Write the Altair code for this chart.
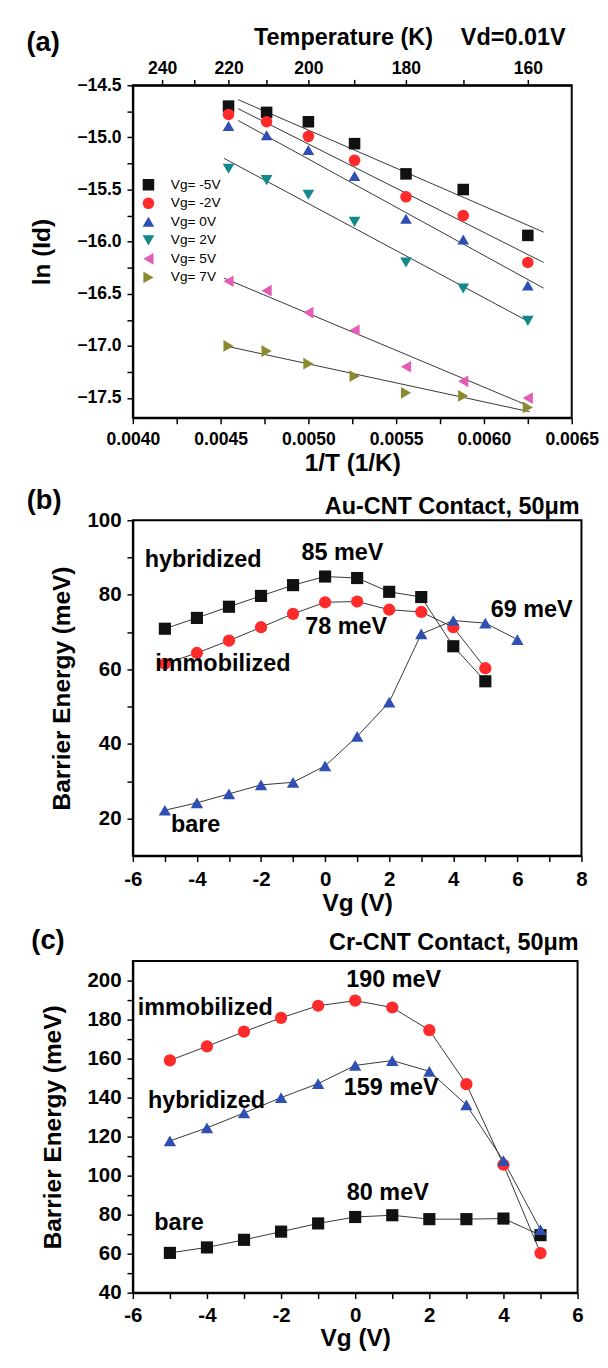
import altair as alt
import pandas as pd

FONT = "Liberation Sans"

# ---------------- panel (a) data ----------------
inv_T = [0.004545, 0.004762, 0.005000, 0.005263, 0.005556, 0.005882, 0.006250]
series_a = ["Vg= -5V", "Vg= -2V", "Vg= 0V", "Vg= 2V", "Vg= 5V", "Vg= 7V"]
ln_m5 = [-14.70, -14.76, -14.85, -15.06, -15.35, -15.50, -15.94]
ln_m2 = [-14.78, -14.85, -14.99, -15.22, -15.57, -15.75, -16.20]
ln_p0 = [-14.89, -14.98, -15.12, -15.37, -15.78, -15.98, -16.42]
ln_p2 = [-15.30, -15.41, -15.55, -15.81, -16.20, -16.45, -16.76]
ln_p5 = [-16.38, -16.47, -16.68, -16.85, -17.20, -17.34, -17.50]
ln_p7 = [-17.00, -17.05, -17.17, -17.29, -17.45, -17.48, -17.59]
colors_a = ["#111111", "#ff2a2a", "#2f50b2", "#12888a", "#e35db4", "#8a8a2e"]
shapes_a = ["square", "circle", "triangle-up", "triangle-down", "triangle-left", "triangle-right"]
sizes_a = [140, 145, 210, 210, 210, 210]
temps_top = [240, 230, 220, 210, 200, 190, 180, 170, 160]
x_ticks_a = [0.004, 0.00425, 0.0045, 0.00475, 0.005, 0.00525, 0.0055, 0.00575, 0.006, 0.00625, 0.0065]
y_ticks_a = [-14.5, -14.75, -15.0, -15.25, -15.5, -15.75, -16.0, -16.25, -16.5, -16.75,
             -17.0, -17.25, -17.5]

# ---------------- panel (b) data ----------------
vg_b = [-5, -4, -3, -2, -1, 0, 1, 2, 3, 4, 5]
vg_b_bare = [-5, -4, -3, -2, -1, 0, 1, 2, 3, 4, 5, 6]
hyb_b = [70.9, 73.8, 76.8, 79.7, 82.6, 84.9, 84.5, 80.8, 79.4, 66.2, 56.8]
imm_b = [61.5, 64.4, 67.7, 71.3, 74.9, 78.0, 78.2, 76.0, 75.4, 71.3, 60.3]
bare_b = [22.2, 24.2, 26.6, 29.0, 29.7, 34.1, 42.0, 51.2, 69.5, 73.1, 72.4, 68.0]
series_b = ["hybridized", "immobilized", "bare"]
colors_b = ["#111111", "#ff2a2a", "#2f50b2"]
shapes_b = ["square", "circle", "triangle-up"]
sizes_b = [155, 160, 240]

# ---------------- panel (c) data ----------------
vg_c = [-5, -4, -3, -2, -1, 0, 1, 2, 3, 4, 5]
imm_c = [159.1, 166.3, 173.8, 180.9, 187.1, 189.7, 186.2, 174.6, 146.9, 105.6, 60.3]
hyb_c = [117.8, 124.5, 132.1, 140.0, 147.2, 156.5, 159.0, 153.5, 136.3, 107.7, 72.3]
bare_c = [60.4, 63.2, 67.1, 71.3, 75.5, 78.8, 79.7, 77.7, 77.7, 78.0, 69.5]
series_c = ["bare", "immobilized", "hybridized"]
colors_c = ["#111111", "#ff2a2a", "#2f50b2"]
shapes_c = ["square", "circle", "triangle-up"]
sizes_c = [155, 160, 240]

# annotations (text, x, y)
ann_b_left = [("hybridized", -5.63, 89.2), ("immobilized", -5.3, 61.3),
              ("bare", -4.81, 18.2), ("69 meV", 5.17, 76.0)]
ann_b_center = [("85 meV", 0.54, 91.3), ("78 meV", 0.66, 71.4)]
ann_c_left = [("immobilized", -5.87, 185.8), ("hybridized", -5.59, 138.3), ("bare", -5.42, 75.8)]
ann_c_center = [("190 meV", 1.04, 200.0), ("159 meV", 0.97, 145.0), ("80 meV", 0.88, 90.8)]


def axis(values, expr, fs, lp, title=None, tfs=25, tp=5, orient=None):
    kw = dict(values=values, labelExpr=expr, labelFont=FONT, labelFontSize=fs,
              labelFontWeight="bold", labelColor="black", labelPadding=lp,
              labelOverlap=False, labelFlush=False, domainColor="black", domainWidth=2,
              tickColor="black", tickWidth=1.5, tickSize=6, grid=False,
              titleFont=FONT, titleFontSize=tfs, titleFontWeight="bold",
              titleColor="black", titlePadding=tp)
    kw["title"] = title
    if orient:
        kw["orient"] = orient
    return alt.Axis(**kw)


def anchor(x, y1, y2):
    return alt.Chart(alt.Data(values=[{}])).mark_rule(strokeOpacity=0, strokeWidth=1).encode(
        x=alt.value(x), x2=alt.value(x + 1), y=alt.value(y1), y2=alt.value(y2))


def label(text, x, y, fs, align="center"):
    return alt.Chart(alt.Data(values=[{}])).mark_text(
        text=text, font=FONT, fontSize=fs, fontWeight="bold", color="black",
        align=align, baseline="middle").encode(x=alt.value(x), y=alt.value(y))


# ================= panel (a) =================
rows = []
for name, vals in zip(series_a, [ln_m5, ln_m2, ln_p0, ln_p2, ln_p5, ln_p7]):
    for xv, yv in zip(inv_T, vals):
        rows.append({"invT": xv, "lnId": yv, "series": name})
df_a = pd.DataFrame(rows)

xa_scale = alt.Scale(domain=[0.004, 0.0065], nice=False, zero=False)
ya_scale = alt.Scale(domain=[-17.69, -14.5], nice=False, zero=False)

xa_bottom = axis(x_ticks_a,
                 "abs(datum.value*2000 - round(datum.value*2000)) < 0.01 ? format(datum.value, '.4f') : ''",
                 18, 7, title="1/T (1/K)", tp=3)
xa_top = axis([1.0 / t for t in temps_top],
              "round(1/datum.value) % 20 == 0 ? '' + round(1/datum.value) : ''",
              18, 2, orient="top")
ya_axis = axis(y_ticks_a,
               "abs(datum.value*2 - round(datum.value*2)) < 0.01 ? format(datum.value, '.1f') : ''",
               18, 6, title="ln (Id)", tp=23)

leg = alt.Legend(orient="none", legendX=9, legendY=95, title=None, labelFont=FONT,
                 labelFontSize=14, labelColor="black", rowPadding=5,
                 padding=0, labelOffset=16, symbolStrokeWidth=0)

pts_a = alt.Chart(df_a).mark_point(filled=True, opacity=1).encode(
    x=alt.X("invT:Q", scale=xa_scale, axis=xa_bottom),
    y=alt.Y("lnId:Q", scale=ya_scale, axis=ya_axis),
    color=alt.Color("series:N", scale=alt.Scale(domain=series_a, range=colors_a), legend=leg),
    shape=alt.Shape("series:N", scale=alt.Scale(domain=series_a, range=shapes_a), legend=leg),
    size=alt.Size("series:N", scale=alt.Scale(domain=series_a, range=sizes_a), legend=leg),
)

reg_a1 = alt.Chart(df_a).transform_filter(
    alt.FieldOneOfPredicate(field="series", oneOf=series_a[:3])
).transform_regression("invT", "lnId", groupby=["series"], extent=[0.0046, 0.00634]).mark_line(
    color="#333333", strokeWidth=1).encode(
    x=alt.X("invT:Q", scale=xa_scale, axis=xa_top),
    y=alt.Y("lnId:Q", scale=ya_scale, axis=ya_axis),
    detail="series:N",
)
reg_a2 = alt.Chart(df_a).transform_filter(
    alt.FieldOneOfPredicate(field="series", oneOf=series_a[3:])
).transform_regression("invT", "lnId", groupby=["series"], extent=[0.00452, 0.00626]).mark_line(
    color="#333333", strokeWidth=1).encode(
    x=alt.X("invT:Q", scale=xa_scale, axis=None),
    y=alt.Y("lnId:Q", scale=ya_scale, axis=ya_axis),
    detail="series:N",
)

panel_a = alt.layer(
    reg_a1, reg_a2, pts_a,
    label("(a)", -92, -43, 28),
    label("Temperature (K)", 216, -48, 24),
    label("Vd=0.01V", 390, -48, 24),
    anchor(-118, -61, 407),
).resolve_scale(x="independent").properties(width=450, height=341)


# ================= panels (b) and (c) =================
def energy_panel(series, xs_list, ys_list, colors, shapes, sizes, xdom, ydom, xticks, yticks,
                 w, h, fs, xlp, xtp, ylp, ytp, ann_left, ann_center, tag, tag_xy,
                 title, title_xy, anc):
    rows = []
    for name, xs, ys in zip(series, xs_list, ys_list):
        for xv, yv in zip(xs, ys):
            rows.append({"vg": xv, "E": yv, "series": name})
    df = pd.DataFrame(rows)
    xs_ = alt.Scale(domain=xdom, nice=False, zero=False)
    ys_ = alt.Scale(domain=ydom, nice=False, zero=False)
    xax = axis(xticks, "datum.value % 2 == 0 ? '' + datum.value : ''", fs, xlp,
               title="Vg (V)", tp=xtp)
    yax = axis(yticks, "datum.value % 20 == 0 ? '' + datum.value : ''", fs, ylp,
               title="Barrier Energy (meV)", tp=ytp)
    X = alt.X("vg:Q", scale=xs_, axis=xax)
    Y = alt.Y("E:Q", scale=ys_, axis=yax)
    lines = alt.Chart(df).mark_line(color="#333333", strokeWidth=1).encode(
        x=X, y=Y, detail="series:N")
    pts = alt.Chart(df).mark_point(filled=True, opacity=1).encode(
        x=X, y=Y,
        color=alt.Color("series:N", scale=alt.Scale(domain=series, range=colors), legend=None),
        shape=alt.Shape("series:N", scale=alt.Scale(domain=series, range=shapes), legend=None),
        size=alt.Size("series:N", scale=alt.Scale(domain=series, range=sizes), legend=None),
    )
    dl = pd.DataFrame([{"t": t, "vg": x, "E": y} for t, x, y in ann_left])
    dc = pd.DataFrame([{"t": t, "vg": x, "E": y} for t, x, y in ann_center])
    tl = alt.Chart(dl).mark_text(font=FONT, fontSize=24, fontWeight="bold", color="black",
                                 align="left", baseline="middle").encode(x=X, y=Y, text="t:N")
    tc = alt.Chart(dc).mark_text(font=FONT, fontSize=24, fontWeight="bold", color="black",
                                 align="center", baseline="middle").encode(x=X, y=Y, text="t:N")
    return alt.layer(
        lines, pts, tl, tc,
        label(tag, tag_xy[0], tag_xy[1], 28),
        label(title, title_xy[0], title_xy[1], 24, align="right"),
        anchor(*anc),
    ).properties(width=w, height=h)


panel_b = energy_panel(
    series_b, [vg_b, vg_b, vg_b_bare], [hyb_b, imm_b, bare_b], colors_b, shapes_b, sizes_b,
    [-6, 8], [10, 100], list(range(-6, 9)), [20, 30, 40, 50, 60, 70, 80, 90, 100],
    460, 344, 21, 8, 1, 6, 13, ann_b_left, ann_b_center, "(b)", (-91, -20),
    "Au-CNT Contact, 50μm", (458, -13), (-118, -37, 411))

panel_c = energy_panel(
    series_c, [vg_c, vg_c, vg_c], [bare_c, imm_c, hyb_c], colors_c, shapes_c, sizes_c,
    [-6, 6], [40, 210], list(range(-6, 7)),
    [40, 50, 60, 70, 80, 90, 100, 110, 120, 130, 140, 150, 160, 170, 180, 190, 200],
    456, 340, 21, 7, 0, 6, 22, ann_c_left, ann_c_center, "(c)", (-87, -20),
    "Cr-CNT Contact, 50μm", (457, -18), (-127, -39, 398))

chart = alt.concat(panel_a, panel_b, panel_c, columns=1, spacing=0, align="none").resolve_scale(
    color="independent", shape="independent", size="independent"
).properties(padding=0).configure_view(stroke="black", strokeWidth=2)

chart.save("out.html", embed_options={"renderer": "svg", "actions": False})
